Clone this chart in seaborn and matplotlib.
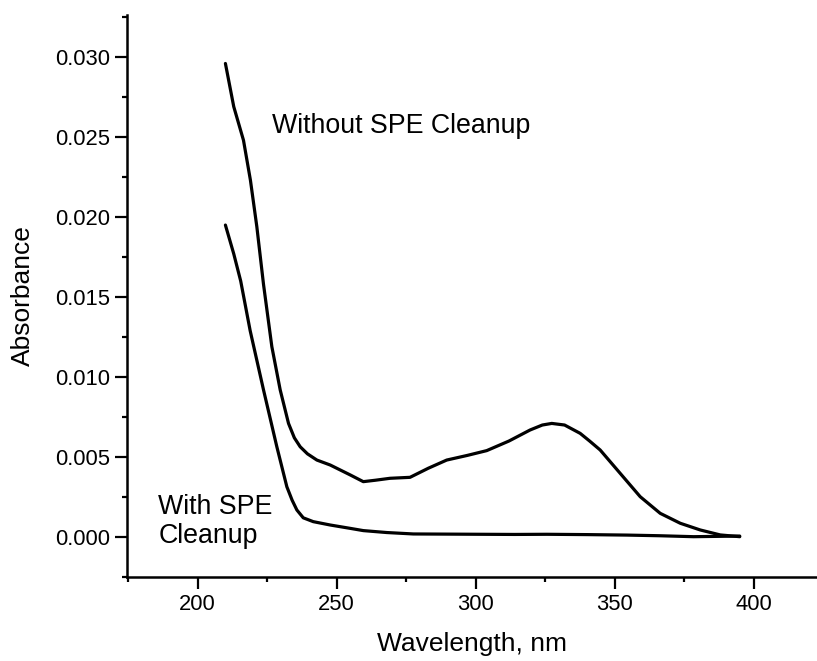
import numpy as np
import pandas as pd
import matplotlib.pyplot as plt
from matplotlib.ticker import MultipleLocator
import seaborn as sns

sns.set_style("ticks")
plt.rcParams["font.family"] = ["Liberation Sans", "DejaVu Sans"]
plt.rcParams["text.color"] = "black"
plt.rcParams["axes.labelcolor"] = "black"

# Data (wavelength in nm, absorbance)
wl_without = [210, 213, 216.5, 219, 221.3, 223.7, 226.7, 229.7, 232.7, 234.8,
              236.9, 239.5, 242.9, 247.7, 254.9, 259.6, 264, 269.2, 276.4, 283,
              289.6, 297, 304, 312, 319.6, 324, 327.4, 332, 337.6, 341,
              344.8, 352, 359.2, 366.4, 373.6, 380.8, 388, 395]
abs_without = [0.0296, 0.0269, 0.0248, 0.0223, 0.0194, 0.0158, 0.0119, 0.0092,
               0.0071, 0.0062, 0.00564, 0.0052, 0.00481, 0.0045, 0.00388,
               0.00346, 0.00355, 0.00367, 0.00373, 0.0043, 0.00481, 0.0051,
               0.0054, 0.0060, 0.00669, 0.0070, 0.0071, 0.0070, 0.00648,
               0.0060, 0.00544, 0.00398, 0.00252, 0.00148, 0.00086, 0.00044,
               0.00013, 0.00002]

wl_with = [210, 213, 215.5, 218.9, 223.7, 228.5, 232.1, 234, 235.7, 238,
           241.6, 247.7, 254.9, 259.6, 268, 277.6, 290, 301.6, 314, 325.6,
           340, 354.4, 366, 378.4, 387, 395]
abs_with = [0.0195, 0.0177, 0.0160, 0.0129, 0.0092, 0.00564, 0.00314, 0.0023,
            0.00169, 0.0012, 0.00096, 0.00075, 0.00054, 0.00040, 0.00028,
            0.00019, 0.00018, 0.00017, 0.00016, 0.00017, 0.00015, 0.00012,
            0.00008, 0.00002, 0.00004, 0.00006]

df = pd.concat([
    pd.DataFrame({"wl": wl_without, "abs": abs_without, "s": "Without SPE Cleanup"}),
    pd.DataFrame({"wl": wl_with, "abs": abs_with, "s": "With SPE Cleanup"}),
])

fig = plt.figure(figsize=(8.17, 6.61), dpi=100)
ax = fig.add_axes([127 / 817, 84 / 661, 690 / 817, 562 / 661])

sns.lineplot(data=df, x="wl", y="abs", units="s", estimator=None, sort=False,
             color="black", linewidth=2.3, ax=ax, legend=False)

ax.set_xlim(174.6, 422.8)
ax.set_ylim(-0.0025, 0.03263)
ax.xaxis.set_major_locator(MultipleLocator(50))
ax.xaxis.set_minor_locator(MultipleLocator(25))
ax.yaxis.set_major_locator(MultipleLocator(0.005))
ax.yaxis.set_minor_locator(MultipleLocator(0.0025))
ax.yaxis.set_major_formatter(plt.FormatStrFormatter("%.3f"))

for s in ["top", "right"]:
    ax.spines[s].set_visible(False)
for s in ["left", "bottom"]:
    ax.spines[s].set_linewidth(1.8)
    ax.spines[s].set_color("black")

ax.tick_params(which="major", length=8.5, width=1.6, labelsize=15.8, pad=4,
               color="black", labelcolor="black")
ax.tick_params(which="minor", length=3.6, width=1.6, color="black")

ax.set_xlabel("Wavelength, nm", fontsize=19, labelpad=12)
ax.set_ylabel("Absorbance", fontsize=19, labelpad=14)

ax.text(226.8, 0.0257, "Without SPE Cleanup", fontsize=19.3, ha="left", va="center")
ax.text(185.8, 0.0010, "With SPE\nCleanup", fontsize=19.3, ha="left",
        va="center", linespacing=1.15)

fig.savefig("out.png", dpi=100)
